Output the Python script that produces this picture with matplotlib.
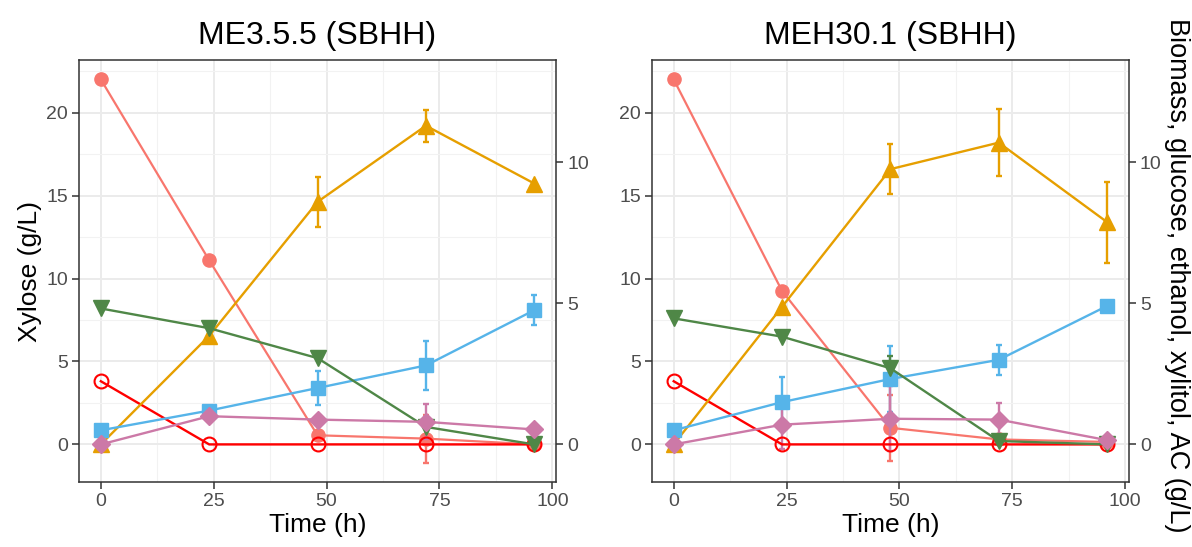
import matplotlib
matplotlib.use("Agg")
import matplotlib.pyplot as plt
from matplotlib.ticker import MultipleLocator

plt.rcParams['font.family'] = ['Liberation Sans', 'DejaVu Sans']

time = [0, 24, 48, 72, 96]
scale = 1.7  # xylose axis / secondary axis

# ME3.5.5 (SBHH)
me_xylose = [22.0, 11.1, 0.55, 0.35, 0.0]
me_xylose_sd = [0, 0, 0, 1.45, 0]
me_glucose = [2.24, 0, 0, 0, 0]
me_ethanol = [0, 3.85, 8.6, 11.3, 9.25]
me_ethanol_sd = [0, 0, 0.88, 0.57, 0]
me_biomass = [0.5, 1.2, 2.0, 2.8, 4.76]
me_biomass_sd = [0, 0, 0.59, 0.88, 0.53]
me_xylitol = [0, 1.0, 0.88, 0.8, 0.53]
me_xylitol_sd = [0, 0, 0, 0.62, 0]
me_ac = [4.82, 4.12, 3.06, 0.62, 0]
me_ac_sd = [0, 0, 0, 0, 0]

# MEH30.1 (SBHH)
meh_xylose = [22.0, 9.25, 1.0, 0.3, 0.15]
meh_xylose_sd = [0, 0, 2.0, 0, 0]
meh_glucose = [2.24, 0, 0, 0, 0]
meh_ethanol = [0, 4.88, 9.76, 10.7, 7.88]
meh_ethanol_sd = [0, 0, 0.88, 1.18, 1.44]
meh_biomass = [0.5, 1.5, 2.32, 3.0, 4.91]
meh_biomass_sd = [0, 0.88, 1.18, 0.53, 0]
meh_xylitol = [0, 0.7, 0.91, 0.88, 0.15]
meh_xylitol_sd = [0, 0.88, 1.15, 0.59, 0]
meh_ac = [4.47, 3.82, 2.7, 0.12, 0]
meh_ac_sd = [0, 0, 0.44, 0, 0]

titles = ["ME3.5.5 (SBHH)", "MEH30.1 (SBHH)"]
panels = [
    dict(xylose=me_xylose, xylose_sd=me_xylose_sd, glucose=me_glucose,
         ethanol=me_ethanol, ethanol_sd=me_ethanol_sd,
         biomass=me_biomass, biomass_sd=me_biomass_sd,
         xylitol=me_xylitol, xylitol_sd=me_xylitol_sd,
         ac=me_ac, ac_sd=me_ac_sd),
    dict(xylose=meh_xylose, xylose_sd=meh_xylose_sd, glucose=meh_glucose,
         ethanol=meh_ethanol, ethanol_sd=meh_ethanol_sd,
         biomass=meh_biomass, biomass_sd=meh_biomass_sd,
         xylitol=meh_xylitol, xylitol_sd=meh_xylitol_sd,
         ac=meh_ac, ac_sd=meh_ac_sd),
]

c_xyl = '#F8766D'
c_glc = '#FF0000'
c_eth = '#E69F00'
c_bio = '#56B4E9'
c_xol = '#CC79A7'
c_ac = '#4F8747'
border = '#333333'
ticktxt = '#4D4D4D'

fig = plt.figure(figsize=(11.92, 5.47), dpi=100)
lefts = [0.0664, 0.547]
ylo, yhi = -2.26, 23.16


def style(a):
    a.tick_params(colors=border, labelcolor=ticktxt, labelsize=14, length=5,
                  width=1.1, pad=3)


for i, d in enumerate(panels):
    ax = fig.add_axes([lefts[i], 0.119, 0.400, 0.771])
    ax.set_xlim(-4.8, 100.8)
    ax.set_ylim(ylo, yhi)
    ax.xaxis.set_major_locator(MultipleLocator(25))
    ax.xaxis.set_minor_locator(MultipleLocator(12.5))
    ax.yaxis.set_major_locator(MultipleLocator(5))
    ax.yaxis.set_minor_locator(MultipleLocator(2.5))
    ax.grid(which='major', color='#EBEBEB', lw=1.4)
    ax.grid(which='minor', color='#F2F2F2', lw=0.8)
    ax.tick_params(which='minor', length=0)
    ax.set_axisbelow(True)
    for s in ax.spines.values():
        s.set_color(border)
        s.set_linewidth(1.1)
    style(ax)

    ax.errorbar(time, d['xylose'], yerr=d['xylose_sd'], color=c_xyl, lw=1.6,
                marker='o', ms=9.5, capsize=2.5, elinewidth=1.7, capthick=1.7)

    ax2 = ax.twinx()
    ax2.set_ylim(ylo / scale, yhi / scale)
    ax2.yaxis.set_major_locator(MultipleLocator(5))
    style(ax2)
    for s in ax2.spines.values():
        s.set_visible(False)

    eb = dict(capsize=2.5, elinewidth=1.7, capthick=1.7, lw=1.7)
    ax2.errorbar(time, d['ethanol'], yerr=d['ethanol_sd'], color=c_eth,
                 marker='^', ms=11.5, **eb)
    ax2.errorbar(time, d['biomass'], yerr=d['biomass_sd'], color=c_bio,
                 marker='s', ms=9.5, **eb)
    ax2.errorbar(time, d['ac'], yerr=d['ac_sd'], color=c_ac,
                 marker='v', ms=11.5, **eb)
    ax2.errorbar(time, d['xylitol'], yerr=d['xylitol_sd'], color=c_xol,
                 marker='D', ms=9, **eb)
    ax2.plot(time, d['glucose'], color=c_glc, lw=1.7, marker='o', ms=10,
             mfc='none', mec=c_glc, mew=1.5)

    ax.set_title(titles[i], fontsize=23, pad=12)
    ax.set_xlabel('Time (h)', fontsize=19, labelpad=2)
    if i == 0:
        ax.set_ylabel('Xylose (g/L)', fontsize=19, labelpad=3)
    else:
        ax2.set_ylabel('Biomass, glucose, ethanol, xylitol, AC (g/L)',
                       fontsize=19.5, rotation=-90, ha='center', va='center',
                       rotation_mode='anchor')
        ax2.yaxis.set_label_coords(1.1, 0.49)

fig.savefig('out.png', dpi=100)
